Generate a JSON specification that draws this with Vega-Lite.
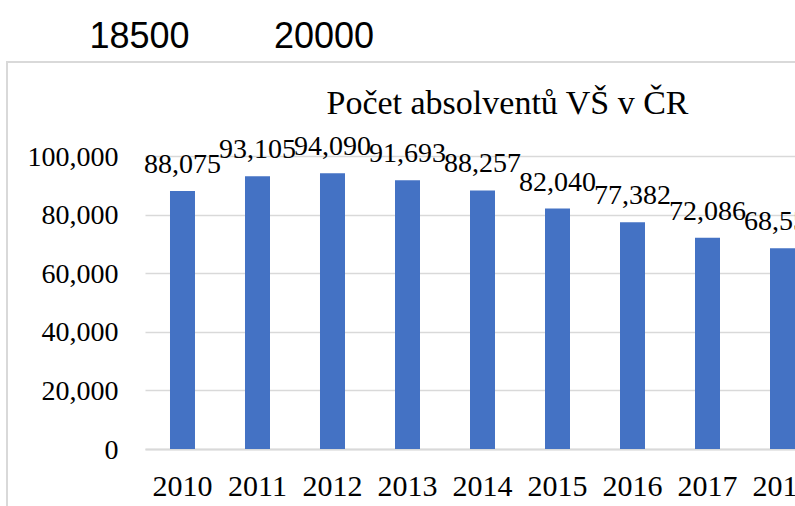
{
  "$schema": "https://vega.github.io/schema/vega-lite/v6.json",
  "autosize": {"type": "none"},
  "padding": {"left": 7, "top": 62, "right": -1, "bottom": -1},
  "width": 789,
  "height": 445,
  "background": "white",
  "config": {
    "view": {"stroke": "#d9d9d9", "strokeWidth": 2},
    "font": "Liberation Serif"
  },
  "title": {
    "text": "Počet absolventů VŠ v ČR",
    "font": "Liberation Serif",
    "fontSize": 34,
    "fontWeight": "normal",
    "color": "#000000",
    "anchor": "middle",
    "frame": "group",
    "dx": 106,
    "baseline": "alphabetic",
    "offset": -130
  },
  "layer": [
    {
      "data": {
        "values": [
          {"rok": "2010", "absolventi": 88075},
          {"rok": "2011", "absolventi": 93105},
          {"rok": "2012", "absolventi": 94090},
          {"rok": "2013", "absolventi": 91693},
          {"rok": "2014", "absolventi": 88257},
          {"rok": "2015", "absolventi": 82040},
          {"rok": "2016", "absolventi": 77382},
          {"rok": "2017", "absolventi": 72086},
          {"rok": "2018", "absolventi": 68555}
        ]
      },
      "encoding": {
        "x": {
          "field": "rok",
          "type": "nominal",
          "sort": null,
          "scale": {"range": [138, 813], "paddingInner": 0.6667, "paddingOuter": 0.3333},
          "axis": {
            "orient": "bottom",
            "title": null,
            "offset": -58,
            "labelAngle": 0,
            "labelFont": "Liberation Serif",
            "labelFontSize": 30,
            "labelColor": "#000000",
            "labelBaseline": "alphabetic",
            "labelPadding": 46,
            "ticks": false,
            "domainColor": "#d9d9d9",
            "domainWidth": 2,
            "grid": false
          }
        },
        "y": {
          "field": "absolventi",
          "type": "quantitative",
          "scale": {"domain": [0, 100000], "range": [387, 94], "nice": false},
          "axis": {
            "orient": "left",
            "title": null,
            "offset": -138,
            "values": [0, 20000, 40000, 60000, 80000, 100000],
            "format": ",.0f",
            "labelFont": "Liberation Serif",
            "labelFontSize": 28,
            "labelColor": "#000000",
            "labelBaseline": "alphabetic",
            "labelOffset": 9,
            "labelPadding": 27,
            "ticks": false,
            "domain": false,
            "grid": true,
            "gridColor": "#d9d9d9",
            "gridWidth": 1.5
          }
        }
      },
      "layer": [
        {"mark": {"type": "bar", "color": "#4472C4"}},
        {
          "mark": {
            "type": "text",
            "baseline": "alphabetic",
            "align": "center",
            "dy": -18,
            "font": "Liberation Serif",
            "fontSize": 28,
            "color": "#000000"
          },
          "encoding": {"text": {"field": "absolventi", "type": "quantitative", "format": ",.0f"}}
        }
      ]
    },
    {
      "data": {"values": [{"bunka": 18500}, {"bunka": 20000}]},
      "mark": {"type": "rule", "opacity": 0},
      "encoding": {
        "x": {
          "field": "bunka",
          "type": "quantitative",
          "scale": {"domain": [17426.8, 23841.5], "nice": false, "zero": false},
          "axis": {
            "orient": "top",
            "title": null,
            "values": [18500, 20000],
            "format": "d",
            "labelFont": "Liberation Sans",
            "labelFontSize": 36,
            "labelColor": "#000000",
            "labelBaseline": "alphabetic",
            "labelPadding": 15,
            "ticks": false,
            "domain": false,
            "grid": false
          }
        }
      }
    }
  ],
  "resolve": {"scale": {"x": "independent"}}
}
